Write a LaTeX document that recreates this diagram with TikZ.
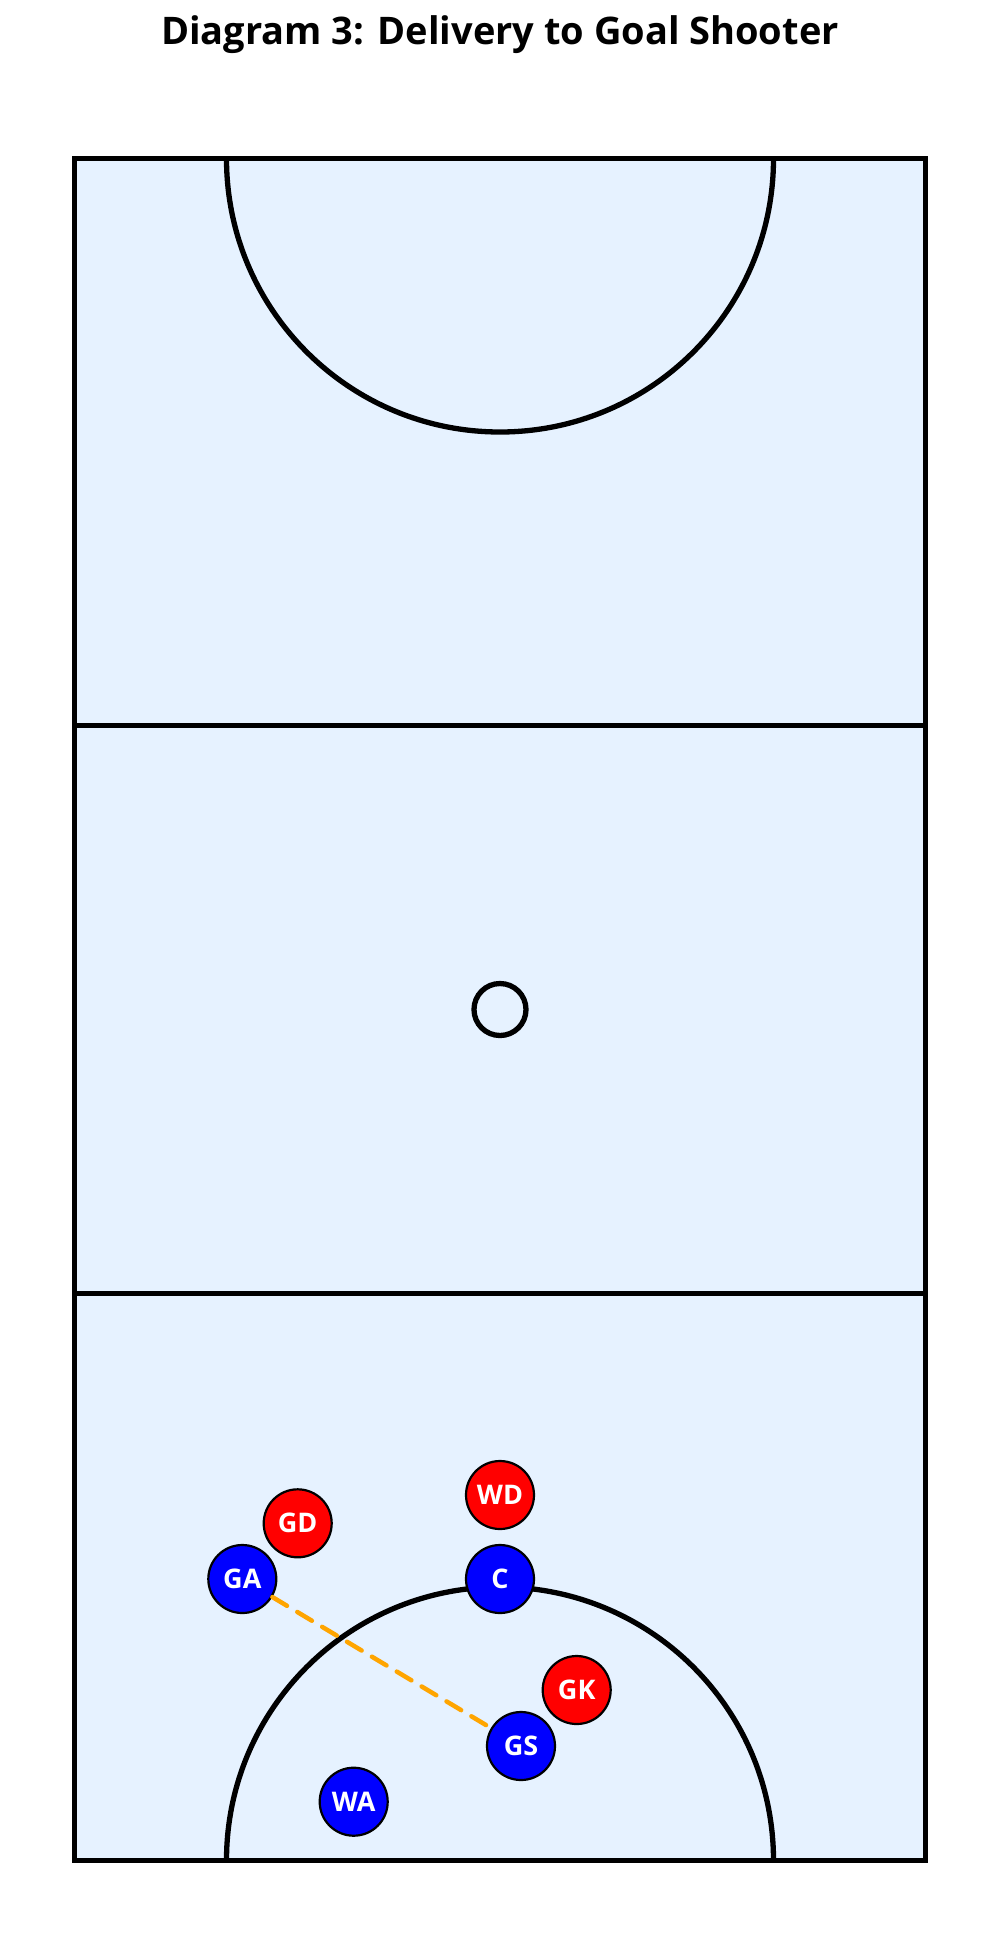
\documentclass[tikz,border=0pt]{standalone}
\usepackage{fontspec}
\setmainfont{Open Sans}
\definecolor{courtfill}{RGB}{230,242,255}
\definecolor{pred}{RGB}{255,0,0}
\definecolor{pblue}{RGB}{0,0,255}
\definecolor{passor}{RGB}{255,165,0}
\tikzset{
  courtline/.style={draw=black, line width=5.3pt},
  player/.style={circle, draw=black, line width=2.2pt, minimum size=68pt, inner sep=0pt,
    text=white, font=\fontsize{27}{27}\selectfont\bfseries},
  attack/.style={player, fill=pblue},
  defend/.style={player, fill=pred},
  pass/.style={draw=passor, line width=4.5pt, line cap=round, dash pattern=on 17pt off 12pt},
}
\begin{document}
\begin{tikzpicture}[x=1pt,y=-1pt]
\useasboundingbox (0,0) rectangle (1000,1933);
\fill[white] (0,0) rectangle (1000,1933);
\node[font=\fontsize{38}{40}\selectfont\bfseries] (title) at (500,35) {Diagram 3: Delivery to Goal Shooter};
% court
\fill[courtfill] (74.5,158.5) rectangle (925.5,1860.5);
\draw[courtline] (74.5,725.8) -- (925.5,725.8);
\draw[courtline] (74.5,1293.2) -- (925.5,1293.2);
\draw[courtline] (226.5,158.5) arc[start angle=180, end angle=0, radius=273.5];
\draw[courtline] (226.5,1860.5) arc[start angle=180, end angle=360, radius=273.5];
\draw[courtline] (500,1009.5) circle[radius=26];
\draw[courtline, line join=miter] (74.5,158.5) rectangle (925.5,1860.5);
% players
\node[defend] (GD) at (297.7,1523.3) {GD};
\node[attack] (GA) at (242.3,1579) {GA};
\node[defend] (WD) at (500,1495) {WD};
\node[attack] (C) at (500,1579) {C};
\node[defend] (GK) at (576.7,1690) {GK};
\node[attack] (GS) at (521,1746) {GS};
\node[attack] (WA) at (353.7,1801.7) {WA};
% pass
\draw[pass] (GA) -- (GS);
\end{tikzpicture}
\end{document}
